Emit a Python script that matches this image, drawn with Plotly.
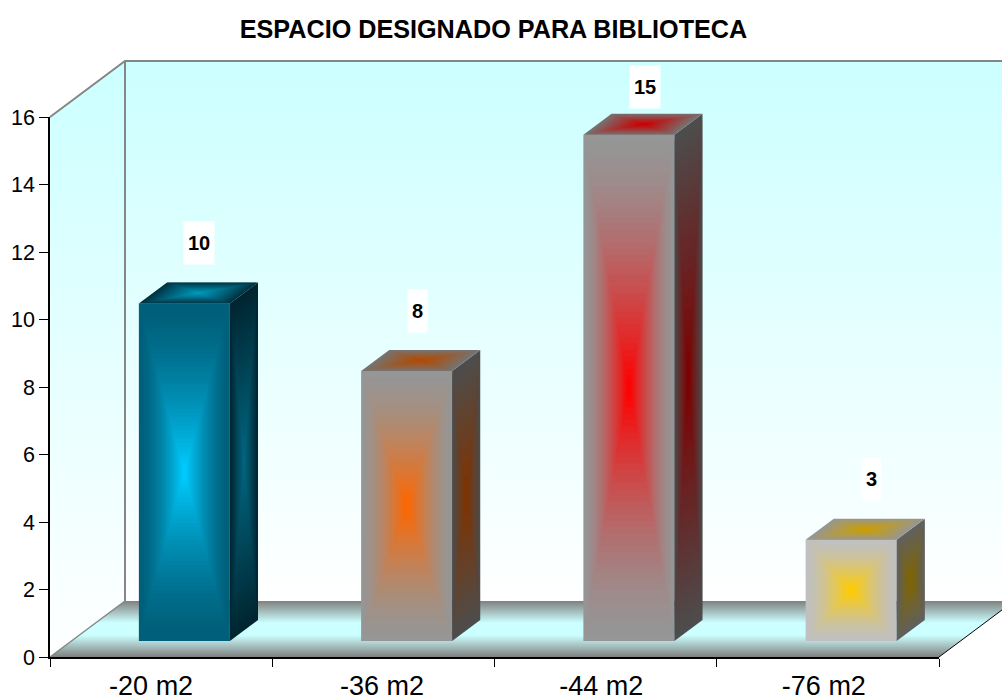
import plotly.graph_objects as go

# ---- data ----
categories = ["-20 m2", "-36 m2", "-44 m2", "-76 m2"]
values = [10, 8, 15, 3]
y_ticks = [0, 2, 4, 6, 8, 10, 12, 14, 16]
title_text = "ESPACIO DESIGNADO PARA BIBLIOTECA"

# ---- styling: (edge, centre) colour of each face ----
front_colors = [("#005F7A", "#00CCFF"), ("#969696", "#FF6600"), ("#969696", "#FF0000"), ("#C0C0C0", "#FFCC00")]
side_colors = [("#002530", "#006680"), ("#4D4D4D", "#803300"), ("#4D4D4D", "#800000"), ("#606060", "#806600")]
top_colors = [("#00303F", "#0099BB"), ("#757575", "#B34A00"), ("#757575", "#CC0000"), ("#969696", "#CC9F00")]

W, H = 1002, 697
X0, X1, Y0, Y16 = 50, 939, 657, 117      # pixel frame of the front plane
PX_X = (X1 - X0) / 4
PX_Y = (Y0 - Y16) / 16
DX = 75 / PX_X                            # chart depth in axis units
DY = 56 / PX_Y
BAR_W = 91 / PX_X
BAR_FX, BAR_FY = 0.31, 0.2857             # front of the bars within the depth
BAR_DEPTH = 0.375
XMAX = (W + 12 - X0) / PX_X               # walls run past the page edge
STEPS = 40

label_shift = [(0.068, 2.28), (0.050, 2.25), (0.074, 1.88), (0.092, 2.27)]
label_box = [30, 19, 30, 19]
tick_shift = [-0.045, -0.006, -0.020, -0.018]


def hex2rgb(c):
    return tuple(int(c[i:i + 2], 16) for i in (1, 3, 5))


def mix(a, b, t):
    ra, rb = hex2rgb(a), hex2rgb(b)
    return "rgb(%d,%d,%d)" % tuple(round(p + (q - p) * t) for p, q in zip(ra, rb))


def poly(xs, ys, **kw):
    return go.Scatter(x=xs + xs[:1], y=ys + ys[:1], mode="lines", fill="toself",
                      hoverinfo="skip", showlegend=False, xaxis="x", yaxis="y", **kw)


def shaded_face(xs, ys, colors, power):
    """Nested copies of a face, shrinking towards its centre."""
    cx, cy = sum(xs) / len(xs), sum(ys) / len(ys)
    out = []
    for k in range(STEPS):
        s = 1 - k / STEPS
        t = (k / (STEPS - 1)) ** power
        col = mix(colors[0], colors[1], t)
        out.append(poly([cx + (x - cx) * s for x in xs], [cy + (y - cy) * s for y in ys],
                        fillcolor=col, line=dict(width=0)))
    return out


fig = go.Figure()

wall_scale = [[0, "#FFFFFF"], [1, "#CCFFFF"]]
floor_scale = [[0, "#808080"], [0.39, "#CCFFFF"], [0.61, "#CCFFFF"], [1, "#808080"]]

# back wall
fig.add_trace(poly([DX, XMAX, XMAX, DX], [16 + DY, 16 + DY, DY, DY],
                   fillgradient=dict(type="vertical", colorscale=wall_scale),
                   line=dict(width=0)))
# left wall
fig.add_trace(poly([0, DX, DX, 0], [16, 16 + DY, DY, 0],
                   fillgradient=dict(type="vertical", colorscale=wall_scale),
                   line=dict(width=0)))
# floor
fig.add_trace(poly([0, DX, XMAX, XMAX - DX], [0, DY, DY, 0],
                   fillgradient=dict(type="vertical", colorscale=floor_scale),
                   line=dict(width=0)))
# wall edges
edge = dict(color="#868686", width=2)
fig.add_trace(go.Scatter(x=[0, DX, XMAX], y=[16, 16 + DY, 16 + DY], mode="lines", line=edge,
                         hoverinfo="skip", showlegend=False))
fig.add_trace(go.Scatter(x=[DX, DX], y=[16 + DY, DY], mode="lines", line=edge,
                         hoverinfo="skip", showlegend=False))
fig.add_trace(go.Scatter(x=[0, DX], y=[0, DY], mode="lines", line=dict(color="#868686", width=1.5),
                         hoverinfo="skip", showlegend=False))
fig.add_trace(go.Scatter(x=[4, 4 + DX], y=[0, DY], mode="lines", line=dict(color="#000000", width=1),
                         hoverinfo="skip", showlegend=False))

# bars
centers = [i + 0.5 + BAR_FX * DX for i in range(len(values))]
base = BAR_FY * DY
fig.add_trace(go.Bar(x=centers, y=values, base=[base] * len(values), width=BAR_W,
                     marker=dict(color=[c[0] for c in front_colors], line=dict(width=0)),
                     hoverinfo="skip", showlegend=False, xaxis="x", yaxis="y"))

ox, oy = BAR_DEPTH * DX, BAR_DEPTH * DY
for i, v in enumerate(values):
    l, r = centers[i] - BAR_W / 2, centers[i] + BAR_W / 2
    b, t = base, base + v
    for tr in shaded_face([l, r, r, l], [b, b, t, t], front_colors[i], 1.5):
        fig.add_trace(tr)
    for tr in shaded_face([r, r + ox, r + ox, r], [b, b + oy, t + oy, t], side_colors[i], 1.0):
        fig.add_trace(tr)
    for tr in shaded_face([l, r, r + ox, l + ox], [t, t, t + oy, t + oy], top_colors[i], 0.9):
        fig.add_trace(tr)

# data labels
annotations = []
for i, v in enumerate(values):
    annotations.append(dict(x=centers[i] + label_shift[i][0], y=v + label_shift[i][1],
                            xref="x", yref="y", text="<b>%d</b>" % v, showarrow=False,
                            font=dict(family="Liberation Sans, Arial", size=20, color="#000000"),
                            bgcolor="#FFFFFF", width=label_box[i], height=42, borderpad=0,
                            xanchor="center", yanchor="middle"))

axis_font = dict(family="Liberation Sans, Arial", color="#000000")
fig.update_layout(
    width=W, height=H, autosize=False,
    margin=dict(l=0, r=0, t=0, b=0, pad=0),
    paper_bgcolor="#FFFFFF", plot_bgcolor="rgba(0,0,0,0)",
    barmode="overlay", showlegend=False,
    annotations=annotations,
    title=dict(text="<b>%s</b>" % title_text, x=493.5 / W, xref="paper", xanchor="center",
               y=1 - 29 / H, yref="paper", yanchor="middle", automargin=False,
               font=dict(family="Liberation Sans, Arial", size=25.2, color="#000000")),
    # hidden full-page axes that carry the 3-D geometry
    xaxis=dict(domain=[0, 1], range=[-X0 / PX_X, (W - X0) / PX_X], visible=False, fixedrange=True,
               automargin=False),
    yaxis=dict(domain=[0, 1], range=[-(H - Y0) / PX_Y, Y0 / PX_Y], visible=False, fixedrange=True,
               automargin=False),
    # visible value and category axes
    xaxis2=dict(domain=[X0 / W, X1 / W], range=[0, 4], anchor="y2", showline=True, linecolor="#000000",
                linewidth=1.5, showgrid=False, zeroline=False, ticks="outside", ticklen=8, tickwidth=1,
                tickcolor="#000000", tickvals=[0, 1, 2, 3, 4], showticklabels=False, fixedrange=True,
                automargin=False),
    yaxis2=dict(domain=[1 - Y0 / H, 1 - Y16 / H], range=[0, 16], anchor="x2", showline=True,
                linecolor="#000000", linewidth=1.5, showgrid=False, zeroline=False, ticks="outside",
                ticklen=9, tickwidth=1, tickcolor="#000000", tickvals=y_ticks,
                ticktext=[str(t) for t in y_ticks], tickfont=dict(size=21.5, **axis_font), fixedrange=True,
                automargin=False),
    xaxis3=dict(domain=[X0 / W, X1 / W], range=[0, 4], anchor="y2", overlaying="x2", showline=False,
                showgrid=False, zeroline=False, ticks="outside", ticklen=5, tickcolor="rgba(0,0,0,0)",
                tickvals=[i + 0.5 + tick_shift[i] for i in range(len(categories))],
                ticktext=categories, tickfont=dict(size=27, **axis_font), fixedrange=True,
                automargin=False),
)

# empty traces so the visible axes are laid out
fig.add_trace(go.Scatter(x=[None], y=[None], xaxis="x2", yaxis="y2", hoverinfo="skip", showlegend=False))
fig.add_trace(go.Scatter(x=[None], y=[None], xaxis="x3", yaxis="y2", hoverinfo="skip", showlegend=False))

fig.write_html("out.html", config=dict(displayModeBar=False),
               post_script="document.body.style.margin='0';document.body.style.overflow='hidden';")
